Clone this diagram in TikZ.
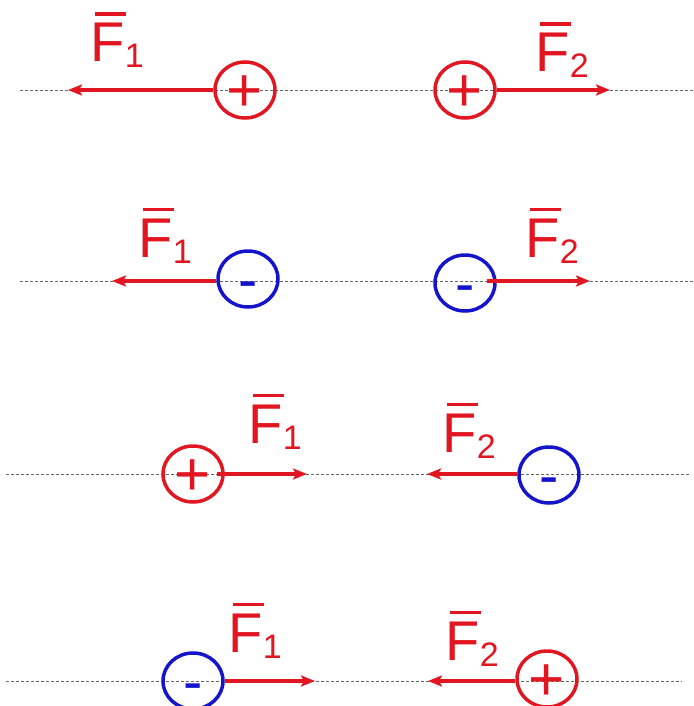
\documentclass[tikz,border=0pt]{standalone}
\usepackage{fontspec}
\setmainfont{Liberation Sans}
\usetikzlibrary{shapes.geometric,positioning,calc,arrows.meta}
\definecolor{chred}{RGB}{226,22,32}
\definecolor{chblue}{RGB}{20,20,205}
\newcommand{\signfont}{\fontsize{62}{62}\selectfont}
\newcommand{\minusfont}{\fontsize{58}{58}\selectfont}
\newcommand{\forcefont}{\fontsize{56}{60}\selectfont}
\newcommand{\indexfont}{\fontsize{34}{36}\selectfont}
\newcommand{\force}[1]{\rlap{\kern4.5pt\raisebox{46pt}{\rule{31pt}{3.5pt}}}F\lower6pt\hbox{\indexfont #1}}
\tikzset{ARROW/.style={line width=4pt, draw=chred, -{Stealth[length=14pt,width=11pt,inset=3pt]}}}
\tikzset{AXIS/.style={draw=black!60, line width=0.8pt, dash pattern=on 3pt off 2pt}}
\tikzset{CHARGE/.style={ellipse, minimum width=60pt, minimum height=56pt, line width=3.5pt, inner sep=0pt}}
\tikzset{POS/.style={CHARGE, draw=chred, label={[text=chred, font=\signfont, inner sep=0pt, text height=0pt, text depth=0pt, yshift=-21.5pt]center:+}}}
\tikzset{NEG/.style={CHARGE, draw=chblue, label={[text=chblue, font=\minusfont, inner sep=0pt, text height=0pt, text depth=0pt, yshift=-20.5pt]center:-}}}
\tikzset{FORCE/.style={anchor=base west, inner sep=0pt, text=chred, font=\forcefont}}

\begin{document}
\begin{tikzpicture}[x=1pt, y=-1pt]
    \useasboundingbox (0,0) rectangle (693,706);
    \clip (0,0) rectangle (693,706);

    \coordinate (axis1_w) at (20,90);
    \coordinate (axis1_e) at (693,90);
    \draw[AXIS] (axis1_w) -- (axis1_e);
    \node[POS] (q1_left) at (245,90) {};
    \node[POS] (q1_right) at (465,90) {};
    \coordinate (tip1_left) at (68,90);
    \coordinate (tip1_right) at (610,90);
    \draw[ARROW] (q1_left) -- (tip1_left);
    \draw[ARROW] (q1_right) -- (tip1_right);
    \node[FORCE] (f1_left) at (90.5,62) {\force{1}};
    \node[FORCE] (f1_right) at (535.5,72) {\force{2}};

    \coordinate (axis2_w) at (20,281);
    \coordinate (axis2_e) at (693,281);
    \draw[AXIS] (axis2_w) -- (axis2_e);
    \node[NEG] (q2_left) at (248,279) {};
    \node[NEG] (q2_right) at (465,283) {};
    \coordinate (tip2_left) at (112,281);
    \coordinate (tip2_right) at (590,281);
    \draw[ARROW] (q2_left.west |- axis2_w) -- (tip2_left);
    \draw[ARROW] ($(q2_right.east |- axis2_w)+(-10,0)$) -- (tip2_right);
    \node[FORCE] (f2_left) at (138.5,257) {\force{1}};
    \node[FORCE] (f2_right) at (525.5,257) {\force{2}};

    \coordinate (axis3_w) at (6,474);
    \coordinate (axis3_e) at (690,474);
    \draw[AXIS] (axis3_w) -- (axis3_e);
    \node[POS] (q3_left) at (193,474) {};
    \node[NEG] (q3_right) at (549,475) {};
    \coordinate (tip3_left) at (307,474);
    \coordinate (tip3_right) at (427,474);
    \draw[ARROW] ($(q3_left.east |- axis3_w)+(-8,0)$) -- (tip3_left);
    \draw[ARROW] (q3_right.west |- axis3_w) -- (tip3_right);
    \node[FORCE] (f3_left) at (248.5,443) {\force{1}};
    \node[FORCE] (f3_right) at (442.5,452) {\force{2}};

    \coordinate (axis4_w) at (6,681);
    \coordinate (axis4_e) at (682,681);
    \draw[AXIS] (axis4_w) -- (axis4_e);
    \node[NEG] (q4_left) at (193,681) {};
    \node[POS] (q4_right) at (547,679) {};
    \coordinate (tip4_left) at (315,681);
    \coordinate (tip4_right) at (428,681);
    \draw[ARROW] (q4_left.east |- axis4_w) -- (tip4_left);
    \draw[ARROW] (q4_right.west |- axis4_w) -- (tip4_right);
    \node[FORCE] (f4_left) at (228.5,652) {\force{1}};
    \node[FORCE] (f4_right) at (445.5,660) {\force{2}};
\end{tikzpicture}
\end{document}
